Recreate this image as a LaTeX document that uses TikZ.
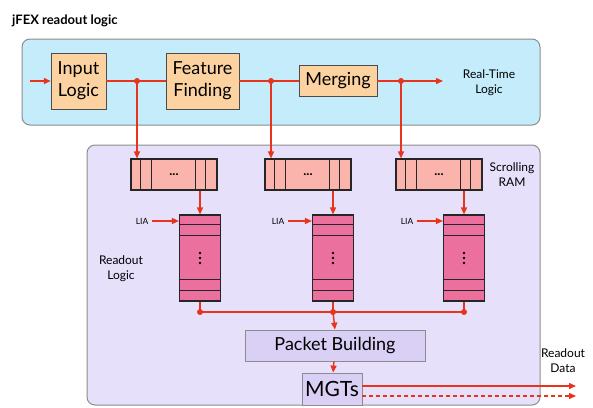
\documentclass[tikz,border=0pt]{standalone}
\usepackage{fontspec}
\setmainfont{Lato}
\usetikzlibrary{arrows.meta,positioning}
\definecolor{rtbg}{RGB}{196,236,251}
\definecolor{robg}{RGB}{230,224,250}
\definecolor{blkbg}{RGB}{252,210,160}
\definecolor{rambg}{RGB}{250,180,172}
\definecolor{bufbg}{RGB}{236,112,158}
\definecolor{pktbg}{RGB}{218,208,246}
\definecolor{sigred}{RGB}{232,52,28}
\definecolor{panelgray}{RGB}{140,140,140}

\begin{document}
\begin{tikzpicture}[x=1pt, y=-1pt,
  panel/.style={draw=panelgray, line width=1pt, rounded corners=8pt},
  blk/.style={draw=black!70, fill=blkbg, align=center, inner sep=0pt,
    font=\fontsize{18}{22}\selectfont},
  ram/.style={draw=black!85, line width=1.1pt, fill=rambg, minimum width=86pt,
    minimum height=31pt, inner sep=0pt, font=\fontsize{13}{13}\selectfont\bfseries},
  buf/.style={draw=black!85, line width=1.1pt, fill=bufbg, minimum width=41pt,
    minimum height=86pt, inner sep=0pt},
  pkt/.style={draw=panelgray, line width=0.8pt, fill=pktbg, inner sep=0pt},
  nlab/.style={align=center, inner sep=1pt, font=\fontsize{12}{15}\selectfont},
  lia/.style={inner sep=1pt, font=\fontsize{8.5}{9}\selectfont},
  sig/.style={sigred, line width=1.4pt},
  arr/.style={sig, -{Triangle[length=7pt, width=6pt]}},
  jdot/.style={circle, fill=sigred, inner sep=0pt, minimum size=6pt},
  vdot/.style={circle, fill=black, inner sep=0pt, minimum size=2.6pt}
]
  \useasboundingbox (0,0) rectangle (593,407);
  % ---------------- panels ----------------
  \node[anchor=west, inner sep=0pt, font=\fontsize{13}{13}\selectfont\bfseries] (title) at (12,21) {jFEX readout logic};
  \node[panel, fill=rtbg, minimum width=518pt, minimum height=86pt] (rtl) at (281,82) {};
  \node[panel, fill=robg, minimum width=453pt, minimum height=260pt] (rol) at (313.5,275) {};
  % ---------------- real-time path ----------------
  \node[blk, minimum width=55pt, minimum height=56pt] (inlog) at (78.5,81) {Input\\Logic};
  \node[blk, minimum width=73pt, minimum height=56pt] (fefi) at (202.5,81) {Feature\\Finding};
  \node[blk, minimum width=78pt, minimum height=31pt] (merg) at (338,81) {Merging};
  \node[nlab] (rtlab) at (489,83) {Real-Time\\Logic};
  \coordinate (inp) at (30,81);
  \coordinate (rto) at (443,81);
  \coordinate (j1) at (137,81);
  \coordinate (j2) at (271,81);
  \coordinate (j3) at (401,81);
  % ---------------- scrolling RAM ----------------
  \node[ram] (ram1) at (174,174.5) {...};
  \node[ram] (ram2) at (308,174.5) {...};
  \node[ram] (ram3) at (439,174.5) {...};
  \node[nlab] (srlab) at (512,175) {Scrolling\\RAM};
  \foreach \r in {ram1,ram2,ram3}
    \foreach \d in {10,21,65,75}
      \draw[black!85, line width=1.1pt] ([xshift=\d pt]\r.north west) -- ([xshift=\d pt]\r.south west);
  % ---------------- readout buffers ----------------
  \node[buf] (buf1) at (200,258) {};
  \node[buf] (buf2) at (333,258) {};
  \node[buf] (buf3) at (464,258) {};
  \foreach \r in {buf1,buf2,buf3} {
    \foreach \d in {10,21,65,76}
      \draw[black!85, line width=1.1pt] ([yshift=-\d pt]\r.north west) -- ([yshift=-\d pt]\r.north east);
    \foreach \d in {-5,0,5}
      \node[vdot] at ([yshift=\d pt]\r.center) {};
  }
  \node[lia] (lia1) at (142,221) {LIA};
  \node[lia] (lia2) at (278,221) {LIA};
  \node[lia] (lia3) at (407,221) {LIA};
  \node[nlab] (rolab) at (121,269) {Readout\\Logic};
  % ---------------- output ----------------
  \node[pkt, minimum width=180pt, minimum height=31pt, font=\fontsize{18}{18}\selectfont] (pkt) at (335,345.5) {Packet Building};
  \node[pkt, minimum width=60pt, minimum height=32pt, font=\fontsize{21}{21}\selectfont] (mgt) at (332,389) {MGTs};
  \node[nlab] (rdlab) at (563,361) {Readout\\Data};
  \coordinate (b1) at (200,312);
  \coordinate (b2) at (333,312);
  \coordinate (b3) at (464,312);
  \coordinate (rd1) at (576,386);
  \coordinate (rd2) at (576,396);
  % ---------------- edges ----------------
  \draw[arr] (inp) -- (inlog.west);
  \draw[sig] (inlog) -- (fefi);
  \draw[sig] (fefi) -- (merg);
  \draw[arr] (merg.east) -- (rto);
  \draw[arr] (j1) -- (j1 |- ram1.north);
  \draw[arr] (j2) -- (j2 |- ram2.north);
  \draw[arr] (j3) -- (j3 |- ram3.north);
  \draw[arr] (buf1.north |- ram1.south) -- (buf1.north);
  \draw[arr] (buf2.north |- ram2.south) -- (buf2.north);
  \draw[arr] (buf3.north |- ram3.south) -- (buf3.north);
  \draw[arr, shorten <=3pt] (lia1.east) -- (lia1.east -| buf1.west);
  \draw[arr, shorten <=3pt] (lia2.east) -- (lia2.east -| buf2.west);
  \draw[arr, shorten <=3pt] (lia3.east) -- (lia3.east -| buf3.west);
  \draw[sig] (buf1.south) -- (b1);
  \draw[sig] (buf2.south) -- (b2);
  \draw[sig] (buf3.south) -- (b3);
  \draw[sig] (b1) -- (b3);
  \draw[arr] (b2) -- (pkt.north);
  \draw[arr] (pkt) -- (mgt);
  \draw[arr] (mgt.east |- rd1) -- (rd1);
  \draw[arr, dash pattern=on 4pt off 3pt] (mgt.east |- rd2) -- (rd2);
  \foreach \j in {j1,j2,j3,b1,b2,b3}
    \node[jdot] at (\j) {};
\end{tikzpicture}
\end{document}
